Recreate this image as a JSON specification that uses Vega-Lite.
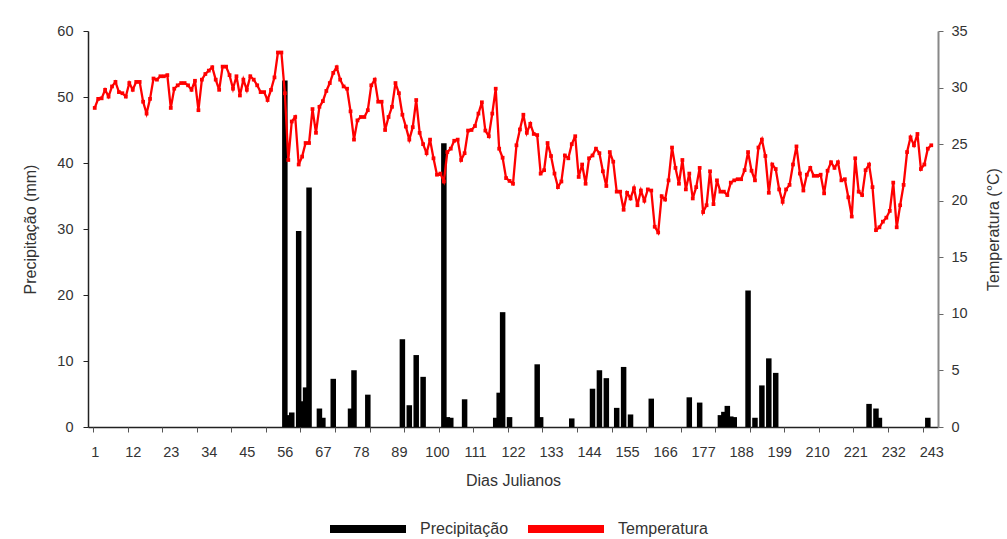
{
  "$schema": "https://vega.github.io/schema/vega-lite/v6.json",
  "autosize": "none",
  "width": 850,
  "height": 396,
  "padding": {"left": 88, "top": 31, "right": 69, "bottom": 112},
  "background": "white",
  "config": {
    "font": "Liberation Sans",
    "view": {"stroke": null},
    "axis": {"grid": false, "labelFont": "Liberation Sans", "labelFontSize": 14.5, "labelColor": "#333333", "titleFont": "Liberation Sans", "titleFontSize": 16, "titleFontWeight": "normal", "titleColor": "#333333"},
    "legend": {"labelFont": "Liberation Sans", "labelFontSize": 16, "labelColor": "#333333", "padding": 0}
  },
  "datasets": {
    "prec": [
      {"d":56,"p":52.5},{"d":57,"p":1.8},{"d":58,"p":2.2},{"d":60,"p":29.7},{"d":61,"p":3.9},{"d":62,"p":6.0},{"d":63,"p":36.3},
      {"d":66,"p":2.8},{"d":67,"p":1.4},{"d":70,"p":7.3},{"d":75,"p":2.8},{"d":76,"p":8.6},{"d":80,"p":4.9},
      {"d":90,"p":13.3},{"d":92,"p":3.3},{"d":94,"p":10.9},{"d":96,"p":7.6},{"d":102,"p":43.0},{"d":103,"p":1.5},{"d":104,"p":1.4},
      {"d":108,"p":4.2},{"d":117,"p":1.4},{"d":118,"p":5.2},{"d":119,"p":17.4},{"d":121,"p":1.5},{"d":129,"p":9.5},{"d":130,"p":1.5},
      {"d":139,"p":1.3},{"d":145,"p":5.8},{"d":147,"p":8.6},{"d":149,"p":7.4},{"d":152,"p":2.9},{"d":154,"p":9.1},{"d":156,"p":1.9},
      {"d":162,"p":4.3},{"d":173,"p":4.5},{"d":176,"p":3.7},{"d":182,"p":1.8},{"d":183,"p":2.3},{"d":184,"p":3.2},{"d":185,"p":1.6},{"d":186,"p":1.5},
      {"d":190,"p":20.7},{"d":192,"p":1.4},{"d":194,"p":6.3},{"d":196,"p":10.4},{"d":198,"p":8.2},
      {"d":225,"p":3.5},{"d":227,"p":2.8},{"d":228,"p":1.4},{"d":242,"p":1.4}
    ],
    "temp": [
      {"d":1,"t":28.2},{"d":2,"t":29.0},{"d":3,"t":29.05},{"d":4,"t":29.8},{"d":5,"t":29.2},{"d":6,"t":30.1},{"d":7,"t":30.5},{"d":8,"t":29.6},{"d":9,"t":29.5},{"d":10,"t":29.2},
      {"d":11,"t":30.4},{"d":12,"t":29.8},{"d":13,"t":30.5},{"d":14,"t":30.5},{"d":15,"t":28.75},{"d":16,"t":27.7},{"d":17,"t":29.0},{"d":18,"t":30.8},{"d":19,"t":30.7},{"d":20,"t":31.0},
      {"d":21,"t":31.0},{"d":22,"t":31.1},{"d":23,"t":28.2},{"d":24,"t":29.9},{"d":25,"t":30.2},{"d":26,"t":30.4},{"d":27,"t":30.4},{"d":28,"t":30.2},{"d":29,"t":29.8},{"d":30,"t":30.6},
      {"d":31,"t":28.0},{"d":32,"t":30.7},{"d":33,"t":31.2},{"d":34,"t":31.5},{"d":35,"t":31.8},{"d":36,"t":30.7},{"d":37,"t":29.8},{"d":38,"t":31.85},{"d":39,"t":31.85},{"d":40,"t":31.1},
      {"d":41,"t":29.9},{"d":42,"t":31.0},{"d":43,"t":29.3},{"d":44,"t":30.7},{"d":45,"t":29.8},{"d":46,"t":31.0},{"d":47,"t":30.7},{"d":48,"t":30.2},{"d":49,"t":29.6},{"d":50,"t":29.6},
      {"d":51,"t":28.9},{"d":52,"t":29.8},{"d":53,"t":30.9},{"d":54,"t":33.1},{"d":55,"t":33.1},{"d":56,"t":29.5},{"d":57,"t":23.6},{"d":58,"t":27.0},{"d":59,"t":27.4},{"d":60,"t":23.2},
      {"d":61,"t":23.9},{"d":62,"t":25.1},{"d":63,"t":25.1},{"d":64,"t":28.1},{"d":65,"t":26.0},{"d":66,"t":28.3},{"d":67,"t":28.8},{"d":68,"t":29.7},{"d":69,"t":30.4},{"d":70,"t":31.3},
      {"d":71,"t":31.8},{"d":72,"t":30.7},{"d":73,"t":30.1},{"d":74,"t":29.9},{"d":75,"t":27.9},{"d":76,"t":25.4},{"d":77,"t":27.1},{"d":78,"t":27.4},{"d":79,"t":27.4},{"d":80,"t":28.0},
      {"d":81,"t":30.2},{"d":82,"t":30.7},{"d":83,"t":28.75},{"d":84,"t":28.75},{"d":85,"t":26.25},{"d":86,"t":27.4},{"d":87,"t":28.3},{"d":88,"t":30.4},{"d":89,"t":29.5},{"d":90,"t":27.6},
      {"d":91,"t":26.55},{"d":92,"t":25.4},{"d":93,"t":26.5},{"d":94,"t":28.9},{"d":95,"t":26.0},{"d":96,"t":25.0},{"d":97,"t":24.2},{"d":98,"t":25.4},{"d":99,"t":23.75},{"d":100,"t":22.3},
      {"d":101,"t":22.4},{"d":102,"t":21.7},{"d":103,"t":24.3},{"d":104,"t":24.6},{"d":105,"t":25.3},{"d":106,"t":25.4},{"d":107,"t":23.6},{"d":108,"t":24.2},{"d":109,"t":26.2},{"d":110,"t":26.25},
      {"d":111,"t":26.6},{"d":112,"t":27.7},{"d":113,"t":28.7},{"d":114,"t":26.2},{"d":115,"t":25.7},{"d":116,"t":27.7},{"d":117,"t":29.9},{"d":118,"t":24.6},{"d":119,"t":23.8},{"d":120,"t":22.0},
      {"d":121,"t":21.75},{"d":122,"t":21.5},{"d":123,"t":24.9},{"d":124,"t":26.3},{"d":125,"t":27.6},{"d":126,"t":26.0},{"d":127,"t":26.8},{"d":128,"t":25.9},{"d":129,"t":25.8},{"d":130,"t":22.4},
      {"d":131,"t":22.7},{"d":132,"t":25.1},{"d":133,"t":23.95},{"d":134,"t":22.4},{"d":135,"t":21.2},{"d":136,"t":21.7},{"d":137,"t":24.0},{"d":138,"t":23.75},{"d":139,"t":25.0},{"d":140,"t":25.7},
      {"d":141,"t":22.1},{"d":142,"t":23.2},{"d":143,"t":21.5},{"d":144,"t":23.75},{"d":145,"t":24.0},{"d":146,"t":24.6},{"d":147,"t":24.2},{"d":148,"t":22.6},{"d":149,"t":21.3},{"d":150,"t":24.3},
      {"d":151,"t":23.45},{"d":152,"t":20.8},{"d":153,"t":20.8},{"d":154,"t":19.2},{"d":155,"t":20.7},{"d":156,"t":20.2},{"d":157,"t":21.1},{"d":158,"t":19.6},{"d":159,"t":20.9},{"d":160,"t":20.0},
      {"d":161,"t":21.0},{"d":162,"t":20.9},{"d":163,"t":17.7},{"d":164,"t":17.2},{"d":165,"t":20.4},{"d":166,"t":20.1},{"d":167,"t":21.8},{"d":168,"t":24.7},{"d":169,"t":22.9},{"d":170,"t":21.5},
      {"d":171,"t":23.6},{"d":172,"t":21.0},{"d":173,"t":22.4},{"d":174,"t":20.2},{"d":175,"t":21.2},{"d":176,"t":22.9},{"d":177,"t":19.0},{"d":178,"t":19.6},{"d":179,"t":22.6},{"d":180,"t":19.7},
      {"d":181,"t":21.8},{"d":182,"t":20.8},{"d":183,"t":20.8},{"d":184,"t":20.5},{"d":185,"t":21.6},{"d":186,"t":21.8},{"d":187,"t":21.9},{"d":188,"t":21.9},{"d":189,"t":22.7},{"d":190,"t":24.3},
      {"d":191,"t":22.65},{"d":192,"t":21.8},{"d":193,"t":24.7},{"d":194,"t":25.4},{"d":195,"t":23.95},{"d":196,"t":20.7},{"d":197,"t":23.2},{"d":198,"t":22.8},{"d":199,"t":21.0},{"d":200,"t":19.9},
      {"d":201,"t":21.0},{"d":202,"t":21.4},{"d":203,"t":23.2},{"d":204,"t":24.8},{"d":205,"t":22.4},{"d":206,"t":20.9},{"d":207,"t":22.3},{"d":208,"t":22.9},{"d":209,"t":22.2},{"d":210,"t":22.2},
      {"d":211,"t":22.3},{"d":212,"t":20.65},{"d":213,"t":22.65},{"d":214,"t":23.4},{"d":215,"t":22.9},{"d":216,"t":23.4},{"d":217,"t":21.8},{"d":218,"t":21.9},{"d":219,"t":20.3},{"d":220,"t":18.6},
      {"d":221,"t":23.75},{"d":222,"t":20.8},{"d":223,"t":20.5},{"d":224,"t":22.7},{"d":225,"t":23.2},{"d":226,"t":21.2},{"d":227,"t":17.4},{"d":228,"t":17.65},{"d":229,"t":18.15},{"d":230,"t":18.5},
      {"d":231,"t":19.1},{"d":232,"t":21.6},{"d":233,"t":17.65},{"d":234,"t":19.6},{"d":235,"t":21.4},{"d":236,"t":24.3},{"d":237,"t":25.6},{"d":238,"t":24.9},{"d":239,"t":25.9},{"d":240,"t":22.8},
      {"d":241,"t":23.2},{"d":242,"t":24.6},{"d":243,"t":24.9}
    ]
  },
  "layer": [
    {
      "data": {"name": "prec"},
      "mark": {"type": "bar", "size": 5.5},
      "encoding": {
        "x": {"field": "d", "type": "quantitative",
          "scale": {"domain": [0.5, 243.5], "nice": false, "zero": false},
          "axis": {"orient": "bottom", "values": [1,12,23,34,45,56,67,78,89,100,111,122,133,144,155,166,177,188,199,210,221,232,243],
            "ticks": false, "tickSize": 0, "domain": true, "domainColor": "#222222", "domainWidth": 1.5, "labelPadding": 18, "labelFlush": false, "labelOverlap": false,
            "title": "Dias Julianos", "titlePadding": 14}},
        "y": {"field": "p", "type": "quantitative",
          "scale": {"domain": [0, 60], "nice": false},
          "axis": {"orient": "left", "values": [0,10,20,30,40,50,60], "domainColor": "#222222", "domainWidth": 1.5, "tickColor": "#222222", "tickSize": 5,
            "labelPadding": 10, "title": "Precipitação (mm)", "titlePadding": 18}},
        "color": {"datum": "Precipitação", "type": "nominal",
          "scale": {"domain": ["Precipitação", "Temperatura"], "range": ["#000000", "#ff0000"]},
          "legend": {"orient": "none", "direction": "horizontal", "legendX": 238, "legendY": 456, "title": null,
            "symbolType": "stroke", "symbolSize": 5776, "symbolStrokeWidth": 8, "labelOffset": 10, "columnPadding": 3,
            "encode": {"symbols": {"update": {"stroke": {"scale": "color", "field": "value"}, "strokeWidth": {"value": 8}, "fill": {"value": "transparent"}}}}}}
      }
    },
    {
      "data": {"name": "temp"},
      "mark": {"type": "line", "strokeWidth": 2.3, "point": {"shape": "square", "size": 14, "filled": true}},
      "encoding": {
        "x": {"field": "d", "type": "quantitative",
          "axis": {"orient": "bottom", "values": [0.5,10.5,20.5,30.5,40.5,50.5,60.5,70.5,80.5,90.5,100.5,110.5,120.5,130.5,140.5,150.5,160.5,170.5,180.5,190.5,200.5,210.5,220.5,230.5,240.5],
            "labels": false, "domain": false, "ticks": true, "tickSize": 5, "tickColor": "#555555", "title": null}},
        "y": {"field": "t", "type": "quantitative",
          "scale": {"domain": [0, 35], "nice": false},
          "axis": {"orient": "right", "values": [0,5,10,15,20,25,30,35], "domainColor": "#888888", "domainWidth": 2, "tickColor": "#666666", "tickSize": 5,
            "labelPadding": 8, "title": "Temperatura (°C)", "titleAngle": -90, "titlePadding": 34}},
        "color": {"datum": "Temperatura", "type": "nominal"}
      }
    }
  ],
  "resolve": {"scale": {"y": "independent"}, "axis": {"x": "independent"}}
}
